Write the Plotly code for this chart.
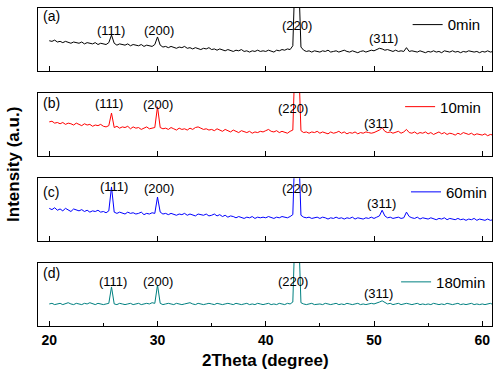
import numpy as np
import plotly.graph_objects as go

# ---------------- data ----------------
two_theta = np.round(np.arange(20.0, 61.0001, 0.25), 2)  # 165 sample positions

series_names = ["0min", "10min", "60min", "180min"]
panel_tags = ["(a)", "(b)", "(c)", "(d)"]
series_colors = ["#000000", "#ff0000", "#0000ff", "#008080"]

intensity_0min = [
    48, 47, 49, 46, 47, 45, 47, 46, 44, 46, 45, 44, 46, 43, 45, 44, 43, 45, 42, 44,
    43, 42, 45, 57, 44, 41, 43, 42, 41, 43, 40, 42, 41, 40, 42, 39, 41, 40, 39, 42,
    54, 41, 38, 39, 37, 39, 38, 36, 38, 37, 39, 36, 37, 35, 37, 36, 34, 36, 35, 37,
    34, 35, 33, 35, 34, 32, 34, 33, 31, 33, 32, 34, 31, 32, 30, 32, 31, 33, 31, 32,
    31, 33, 32, 30, 33, 32, 34, 33, 35, 34, 40, 180, 170, 38, 33, 31, 32, 30, 32, 31,
    30, 32, 31, 33, 30, 31, 32, 30, 31, 33, 31, 30, 32, 31, 29, 31, 32, 30, 31, 33,
    32, 34, 36, 35, 33, 34, 32, 31, 33, 31, 32, 31, 37, 31, 32, 31, 30, 32, 31, 29,
    31, 30, 32, 30, 31, 29, 32, 31, 30, 32, 30, 31, 29, 31, 30, 32, 31, 30, 31, 29,
    31, 30, 32, 30, 31,
]
intensity_10min = [
    54, 55, 52, 53, 51, 53, 50, 52, 51, 49, 52, 50, 48, 51, 49, 50, 47, 49, 48, 50,
    47, 46, 48, 68, 45, 47, 44, 46, 45, 47, 43, 46, 44, 45, 42, 44, 46, 43, 44, 45,
    78, 45, 43, 44, 42, 45, 43, 41, 44, 42, 43, 41, 44, 42, 45, 46, 44, 42, 43, 41,
    42, 40, 43, 41, 39, 42, 40, 38, 41, 39, 37, 40, 38, 37, 39, 36, 38, 37, 39, 38,
    40, 42, 39, 38, 40, 37, 39, 38, 36, 39, 41, 180, 170, 40, 37, 38, 36, 38, 37, 39,
    36, 38, 37, 35, 38, 36, 37, 39, 36, 38, 35, 37, 36, 38, 35, 37, 36, 38, 37, 36,
    37, 39, 41, 45, 39, 37, 38, 36, 37, 39, 36, 38, 42, 37, 36, 38, 35, 37, 36, 38,
    35, 37, 34, 36, 38, 35, 37, 34, 36, 35, 33, 36, 34, 37, 35, 34, 36, 33, 35, 34,
    33, 35, 32, 34, 33,
]
intensity_60min = [
    52, 50, 53, 49, 51, 48, 52, 50, 47, 51, 49, 48, 50, 47, 49, 46, 48, 47, 49, 46,
    47, 45, 48, 86, 46, 44, 46, 45, 43, 46, 44, 45, 43, 44, 46, 42, 44, 43, 45, 44,
    70, 46, 43, 44, 42, 44, 43, 41, 43, 42, 44, 41, 43, 42, 40, 43, 42, 41, 43, 40,
    41, 43, 40, 42, 39, 41, 38, 40, 39, 37, 39, 38, 36, 38, 37, 39, 36, 38, 37, 38,
    37, 39, 38, 36, 38, 37, 39, 38, 37, 39, 42, 180, 170, 41, 38, 37, 38, 36, 37, 38,
    36, 38, 37, 35, 37, 36, 38, 36, 37, 35, 37, 36, 38, 35, 37, 36, 35, 37, 36, 38,
    36, 38, 40, 49, 40, 37, 38, 36, 37, 38, 36, 37, 46, 39, 37, 36, 38, 35, 37, 36,
    35, 37, 36, 34, 36, 35, 37, 34, 36, 35, 34, 36, 34, 35, 33, 35, 34, 36, 33, 35,
    34, 33, 35, 33, 34,
]
intensity_180min = [
    35, 36, 34, 35, 36, 34, 35, 37, 35, 34, 36, 35, 34, 36, 35, 37, 35, 34, 36, 35,
    34, 35, 36, 62, 35, 34, 36, 35, 34, 35, 36, 34, 35, 36, 34, 35, 36, 35, 37, 36,
    65, 36, 34, 35, 36, 35, 34, 36, 35, 34, 35, 36, 37, 35, 34, 36, 35, 34, 35, 36,
    35, 34, 36, 35, 34, 35, 36, 35, 34, 36, 35, 34, 35, 36, 34, 35, 34, 36, 35, 34,
    35, 36, 34, 35, 34, 36, 35, 34, 36, 35, 38, 180, 170, 37, 35, 34, 35, 36, 34, 35,
    35, 34, 36, 35, 34, 35, 36, 34, 35, 34, 36, 35, 34, 35, 36, 34, 35, 34, 35, 36,
    35, 36, 38, 40, 37, 35, 36, 34, 35, 36, 34, 35, 36, 35, 34, 35, 36, 34, 35, 34,
    35, 34, 36, 35, 34, 35, 34, 36, 35, 34, 35, 36, 34, 35, 34, 35, 36, 34, 35, 34,
    35, 34, 35, 36, 34,
]
all_series = [intensity_0min, intensity_10min, intensity_60min, intensity_180min]

x_ticks = [20, 30, 40, 50, 60]
peak_labels = ["(111)", "(200)", "(220)", "(311)"]

# ---------------- layout helpers ----------------
FONT = "Arial, Liberation Sans, sans-serif"
W, H = 500, 374
ML, MR, MT, MB = 38, 8, 8, 48
domains = [[0.802, 1.0], [0.535, 0.733], [0.267, 0.465], [0.0, 0.198]]
legend_pos = [(0.986, 0.947), (0.987, 0.689), (1.0, 0.421), (0.998, 0.138)]
# label positions (x in degrees, y in panel units)
label_pos = [
    [(25.7, 65), (30.15, 65), (42.9, 73), (50.85, 52)],
    [(25.5, 83), (30.05, 81), (42.5, 76), (50.4, 52)],
    [(26.0, 86), (30.15, 83), (42.9, 83), (50.65, 59)],
    [(25.9, 71), (30.05, 70), (42.5, 70), (50.4, 52)],
]
tag_y = [87, 84, 78, 84]

fig = go.Figure()
annotations = []
layout = {}
for i in range(4):
    sfx = "" if i == 0 else str(i + 1)
    xa, ya = "x" + sfx, "y" + sfx
    leg = "legend" + sfx
    fig.add_trace(go.Scatter(
        x=two_theta, y=all_series[i], mode="lines", name=series_names[i],
        line=dict(color=series_colors[i], width=1),
        xaxis=xa, yaxis=ya, legend=leg,
    ))
    is_bottom = i == 3
    layout["xaxis" + sfx] = dict(
        domain=[0, 1], anchor=ya, range=[18.96, 60.9],
        showline=True, mirror=True, linecolor="black", linewidth=1.2,
        ticks="inside", ticklen=5, tickwidth=1, tickcolor="black",
        tickvals=x_ticks, showticklabels=is_bottom,
        tickfont=dict(family=FONT, size=14, color="black", weight="bold"),
        ticklabelstandoff=1, automargin=False,
        showgrid=False, zeroline=False,
        minor=dict(tickvals=[25, 35, 45, 55], ticks="inside", ticklen=3,
                   tickcolor="black", tickwidth=1) if is_bottom else None,
    )
    layout["yaxis" + sfx] = dict(
        domain=domains[i], anchor=xa, range=[0, 100], automargin=False,
        showline=True, mirror=True, linecolor="black", linewidth=1.2,
        showticklabels=False, ticks="", showgrid=False, zeroline=False,
    )
    layout[leg] = dict(
        x=legend_pos[i][0], y=legend_pos[i][1], xanchor="right", yanchor="middle",
        xref="paper", yref="paper",
        bgcolor="rgba(0,0,0,0)", borderwidth=0,
        font=dict(family=FONT, size=15, color="black"),
    )
    annotations.append(dict(
        x=19.2, y=tag_y[i], xref=xa, yref=ya, text=panel_tags[i],
        showarrow=False, xanchor="left", yanchor="middle",
        font=dict(family=FONT, size=14, color="black"),
    ))
    for lbl, (lx, ly) in zip(peak_labels, label_pos[i]):
        annotations.append(dict(
            x=lx, y=ly, xref=xa, yref=ya, text=lbl, showarrow=False,
            xanchor="center", yanchor="middle",
            font=dict(family=FONT, size=13, color="black"),
        ))

annotations.append(dict(
    x=0.5, y=-0.108, xref="paper", yref="paper", text="2Theta (degree)",
    showarrow=False, xanchor="center", yanchor="middle",
    font=dict(family=FONT, size=17, color="black", weight="bold"),
))
annotations.append(dict(
    x=-0.054, y=0.508, xref="paper", yref="paper", text="Intensity (a.u.)",
    textangle=-90, showarrow=False, xanchor="center", yanchor="middle",
    font=dict(family=FONT, size=17, color="black", weight="bold"),
))

fig.update_layout(
    width=W, height=H, margin=dict(l=ML, r=MR, t=MT, b=MB, autoexpand=False),
    paper_bgcolor="white", plot_bgcolor="white",
    showlegend=True, annotations=annotations, **layout,
)
fig.write_html(
    "out.html",
    config={"displayModeBar": False},
    post_script="document.body.style.margin='0';document.body.style.overflow='hidden';",
)
